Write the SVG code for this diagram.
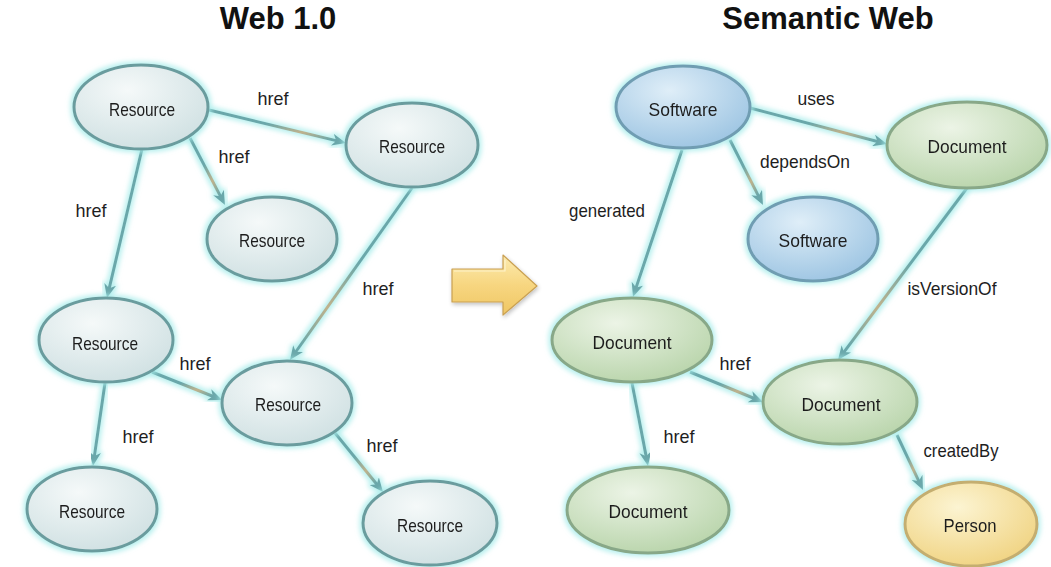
<svg xmlns="http://www.w3.org/2000/svg" width="1051" height="567" viewBox="0 0 1051 567">
  <style>
    .title { font-family: "Liberation Sans", Arial, sans-serif; font-weight: bold; font-size: 31px; fill: #111; text-anchor: middle; }
    .ntext { font-family: "Liberation Sans", Arial, sans-serif; font-size: 19px; fill: #1e1e1e; text-anchor: middle; }
    .ltext { font-family: "Liberation Sans", Arial, sans-serif; font-size: 19px; fill: #1e1e1e; text-anchor: middle; }
    .edge { fill: none; stroke: #6aa7aa; stroke-width: 3; marker-end: url(#head); filter: url(#glow); }
    .res { fill: url(#gRes); stroke: #6a9c9e; stroke-width: 3; }
    .sw { fill: url(#gSw); stroke: #6f9db2; stroke-width: 3; }
    .doc { fill: url(#gDoc); stroke: #88a888; stroke-width: 3; }
    .per { fill: url(#gPer); stroke: #c4ae70; stroke-width: 3; }
    .node { filter: url(#glow); }
  </style>
  <defs>
    <filter id="glow" x="-20%" y="-20%" width="140%" height="140%">
      <feMorphology in="SourceAlpha" operator="dilate" radius="1.5" result="d"/>
      <feGaussianBlur in="d" stdDeviation="2.5" result="b"/>
      <feFlood flood-color="#a6ecea" flood-opacity="0.8"/>
      <feComposite in2="b" operator="in" result="g"/>
      <feMerge><feMergeNode in="g"/><feMergeNode in="SourceGraphic"/></feMerge>
    </filter>
    <filter id="shadow" x="-20%" y="-20%" width="150%" height="160%">
      <feGaussianBlur in="SourceAlpha" stdDeviation="2"/>
      <feOffset dx="1" dy="2" result="o"/>
      <feComponentTransfer><feFuncA type="linear" slope="0.25"/></feComponentTransfer>
      <feMerge><feMergeNode/><feMergeNode in="SourceGraphic"/></feMerge>
    </filter>
    <radialGradient id="gRes" cx="40%" cy="30%" r="75%">
      <stop offset="0" stop-color="#f5f9f9"/>
      <stop offset="1" stop-color="#cfe0e2"/>
    </radialGradient>
    <radialGradient id="gSw" cx="40%" cy="30%" r="75%">
      <stop offset="0" stop-color="#dfeef8"/>
      <stop offset="1" stop-color="#9cc4e2"/>
    </radialGradient>
    <radialGradient id="gDoc" cx="40%" cy="30%" r="75%">
      <stop offset="0" stop-color="#ecf4e6"/>
      <stop offset="1" stop-color="#b8d4aa"/>
    </radialGradient>
    <radialGradient id="gPer" cx="40%" cy="30%" r="75%">
      <stop offset="0" stop-color="#fcf4d2"/>
      <stop offset="1" stop-color="#f0d381"/>
    </radialGradient>
    <linearGradient id="tanR" x1="0" y1="0" x2="1" y2="1">
      <stop offset="0" stop-color="#6aa7aa"/>
      <stop offset="0.45" stop-color="#6aa7aa"/>
      <stop offset="0.72" stop-color="#bfb28c"/>
      <stop offset="0.95" stop-color="#6aa7aa"/>
    </linearGradient>
    <linearGradient id="tanL" x1="1" y1="0" x2="0" y2="1">
      <stop offset="0" stop-color="#6aa7aa"/>
      <stop offset="0.45" stop-color="#6aa7aa"/>
      <stop offset="0.72" stop-color="#bfb28c"/>
      <stop offset="0.95" stop-color="#6aa7aa"/>
    </linearGradient>
    <linearGradient id="gArrow" x1="0" y1="0" x2="0" y2="1">
      <stop offset="0" stop-color="#fcebb0"/>
      <stop offset="0.5" stop-color="#f7d680"/>
      <stop offset="1" stop-color="#efc663"/>
    </linearGradient>
    <marker id="head" viewBox="0 0 14 12" refX="6" refY="6" markerWidth="14" markerHeight="12" markerUnits="userSpaceOnUse" orient="auto">
      <path d="M0,0 L14,6 L0,12 L4,6 Z" fill="#6aa7aa"/>
    </marker>
  </defs>

  <rect width="1051" height="567" fill="#ffffff"/>

  <text class="title" x="278" y="29">Web 1.0</text>
  <text class="title" x="828" y="29">Semantic Web</text>

  <!-- connectors -->
  <g id="connectors">
    <line class="edge" x1="209" y1="110" x2="338.2" y2="141.1" style="stroke:url(#tanR)"/>
    <line class="edge" x1="190" y1="138" x2="221.3" y2="197.9" style="stroke:url(#tanR)"/>
    <line class="edge" x1="142" y1="149" x2="108.8" y2="290.2"/>
    <line class="edge" x1="412" y1="188" x2="294.6" y2="353.5" style="stroke:url(#tanL)"/>
    <line class="edge" x1="152" y1="372" x2="214.6" y2="397" style="stroke:url(#tanR)"/>
    <line class="edge" x1="105" y1="383" x2="94.1" y2="458.1"/>
    <line class="edge" x1="335" y1="433" x2="378" y2="485.8" style="stroke:url(#tanR)"/>

    <line class="edge" x1="750" y1="108" x2="879.3" y2="142" style="stroke:url(#tanR)"/>
    <line class="edge" x1="730" y1="140" x2="759.4" y2="197.9" style="stroke:url(#tanR)"/>
    <line class="edge" x1="682" y1="150" x2="635.5" y2="289.4"/>
    <line class="edge" x1="967" y1="188" x2="842.8" y2="353.6" style="stroke:url(#tanL)"/>
    <line class="edge" x1="690" y1="372" x2="755.6" y2="399" style="stroke:url(#tanR)"/>
    <line class="edge" x1="632" y1="383" x2="646.5" y2="458.1"/>
    <line class="edge" x1="897" y1="435" x2="919.6" y2="482.8" style="stroke:url(#tanR)"/>

    <!-- connector labels -->
    <text class="ltext" x="273" y="105" textLength="31" lengthAdjust="spacingAndGlyphs">href</text>
    <text class="ltext" x="234" y="163" textLength="31" lengthAdjust="spacingAndGlyphs">href</text>
    <text class="ltext" x="91" y="217" textLength="31" lengthAdjust="spacingAndGlyphs">href</text>
    <text class="ltext" x="378" y="295" textLength="31" lengthAdjust="spacingAndGlyphs">href</text>
    <text class="ltext" x="195" y="370" textLength="31" lengthAdjust="spacingAndGlyphs">href</text>
    <text class="ltext" x="138" y="443" textLength="31" lengthAdjust="spacingAndGlyphs">href</text>
    <text class="ltext" x="382" y="452" textLength="31" lengthAdjust="spacingAndGlyphs">href</text>

    <text class="ltext" x="816" y="105" textLength="37" lengthAdjust="spacingAndGlyphs">uses</text>
    <text class="ltext" x="805" y="168" textLength="90" lengthAdjust="spacingAndGlyphs">dependsOn</text>
    <text class="ltext" x="607" y="217" textLength="76" lengthAdjust="spacingAndGlyphs">generated</text>
    <text class="ltext" x="952" y="295" textLength="89" lengthAdjust="spacingAndGlyphs">isVersionOf</text>
    <text class="ltext" x="735" y="370" textLength="31" lengthAdjust="spacingAndGlyphs">href</text>
    <text class="ltext" x="679" y="443" textLength="31" lengthAdjust="spacingAndGlyphs">href</text>
    <text class="ltext" x="961" y="457" textLength="75" lengthAdjust="spacingAndGlyphs">createdBy</text>
  </g>

  <!-- Web 1.0 nodes -->
  <g id="r1" class="node">
    <ellipse class="res" cx="141" cy="107" rx="67" ry="42"/>
    <text class="ntext" x="142" y="116" textLength="66" lengthAdjust="spacingAndGlyphs">Resource</text>
  </g>
  <g id="r2" class="node">
    <ellipse class="res" cx="412" cy="145" rx="66" ry="42"/>
    <text class="ntext" x="412" y="153" textLength="66" lengthAdjust="spacingAndGlyphs">Resource</text>
  </g>
  <g id="r3" class="node">
    <ellipse class="res" cx="272" cy="239" rx="65" ry="42"/>
    <text class="ntext" x="272" y="247" textLength="66" lengthAdjust="spacingAndGlyphs">Resource</text>
  </g>
  <g id="r4" class="node">
    <ellipse class="res" cx="106" cy="340" rx="67" ry="42"/>
    <text class="ntext" x="105" y="350" textLength="66" lengthAdjust="spacingAndGlyphs">Resource</text>
  </g>
  <g id="r5" class="node">
    <ellipse class="res" cx="287" cy="403" rx="65" ry="42"/>
    <text class="ntext" x="288" y="411" textLength="66" lengthAdjust="spacingAndGlyphs">Resource</text>
  </g>
  <g id="r6" class="node">
    <ellipse class="res" cx="92" cy="509" rx="65" ry="42"/>
    <text class="ntext" x="92" y="518" textLength="66" lengthAdjust="spacingAndGlyphs">Resource</text>
  </g>
  <g id="r7" class="node">
    <ellipse class="res" cx="430" cy="523" rx="67" ry="42"/>
    <text class="ntext" x="430" y="532" textLength="66" lengthAdjust="spacingAndGlyphs">Resource</text>
  </g>

  <!-- transition arrow -->
  <g id="transition" filter="url(#shadow)">
    <polygon points="452,269 503,269 503,255 537,286 503,315 503,302 452,302" fill="url(#gArrow)" stroke="#c9a052" stroke-width="1.2" stroke-linejoin="round"/>
    <polyline points="454,271 505,271 505,260" fill="none" stroke="#fff6d6" stroke-width="1.2" opacity="0.8"/>
  </g>

  <!-- Semantic Web nodes -->
  <g id="sw1" class="node">
    <ellipse class="sw" cx="683" cy="107" rx="67" ry="41"/>
    <text class="ntext" x="683" y="116" textLength="69" lengthAdjust="spacingAndGlyphs">Software</text>
  </g>
  <g id="doc1" class="node">
    <ellipse class="doc" cx="967" cy="145" rx="80" ry="43"/>
    <text class="ntext" x="967" y="153" textLength="79" lengthAdjust="spacingAndGlyphs">Document</text>
  </g>
  <g id="sw2" class="node">
    <ellipse class="sw" cx="813" cy="239" rx="65" ry="42"/>
    <text class="ntext" x="813" y="247" textLength="69" lengthAdjust="spacingAndGlyphs">Software</text>
  </g>
  <g id="doc2" class="node">
    <ellipse class="doc" cx="632" cy="340" rx="80" ry="42"/>
    <text class="ntext" x="632" y="349" textLength="79" lengthAdjust="spacingAndGlyphs">Document</text>
  </g>
  <g id="doc3" class="node">
    <ellipse class="doc" cx="840" cy="402" rx="77" ry="42"/>
    <text class="ntext" x="841" y="411" textLength="79" lengthAdjust="spacingAndGlyphs">Document</text>
  </g>
  <g id="doc4" class="node">
    <ellipse class="doc" cx="648" cy="510" rx="81" ry="43"/>
    <text class="ntext" x="648" y="518" textLength="79" lengthAdjust="spacingAndGlyphs">Document</text>
  </g>
  <g id="person" class="node">
    <ellipse class="per" cx="971" cy="524" rx="66" ry="42"/>
    <text class="ntext" x="970" y="532" textLength="53" lengthAdjust="spacingAndGlyphs">Person</text>
  </g>
</svg>
